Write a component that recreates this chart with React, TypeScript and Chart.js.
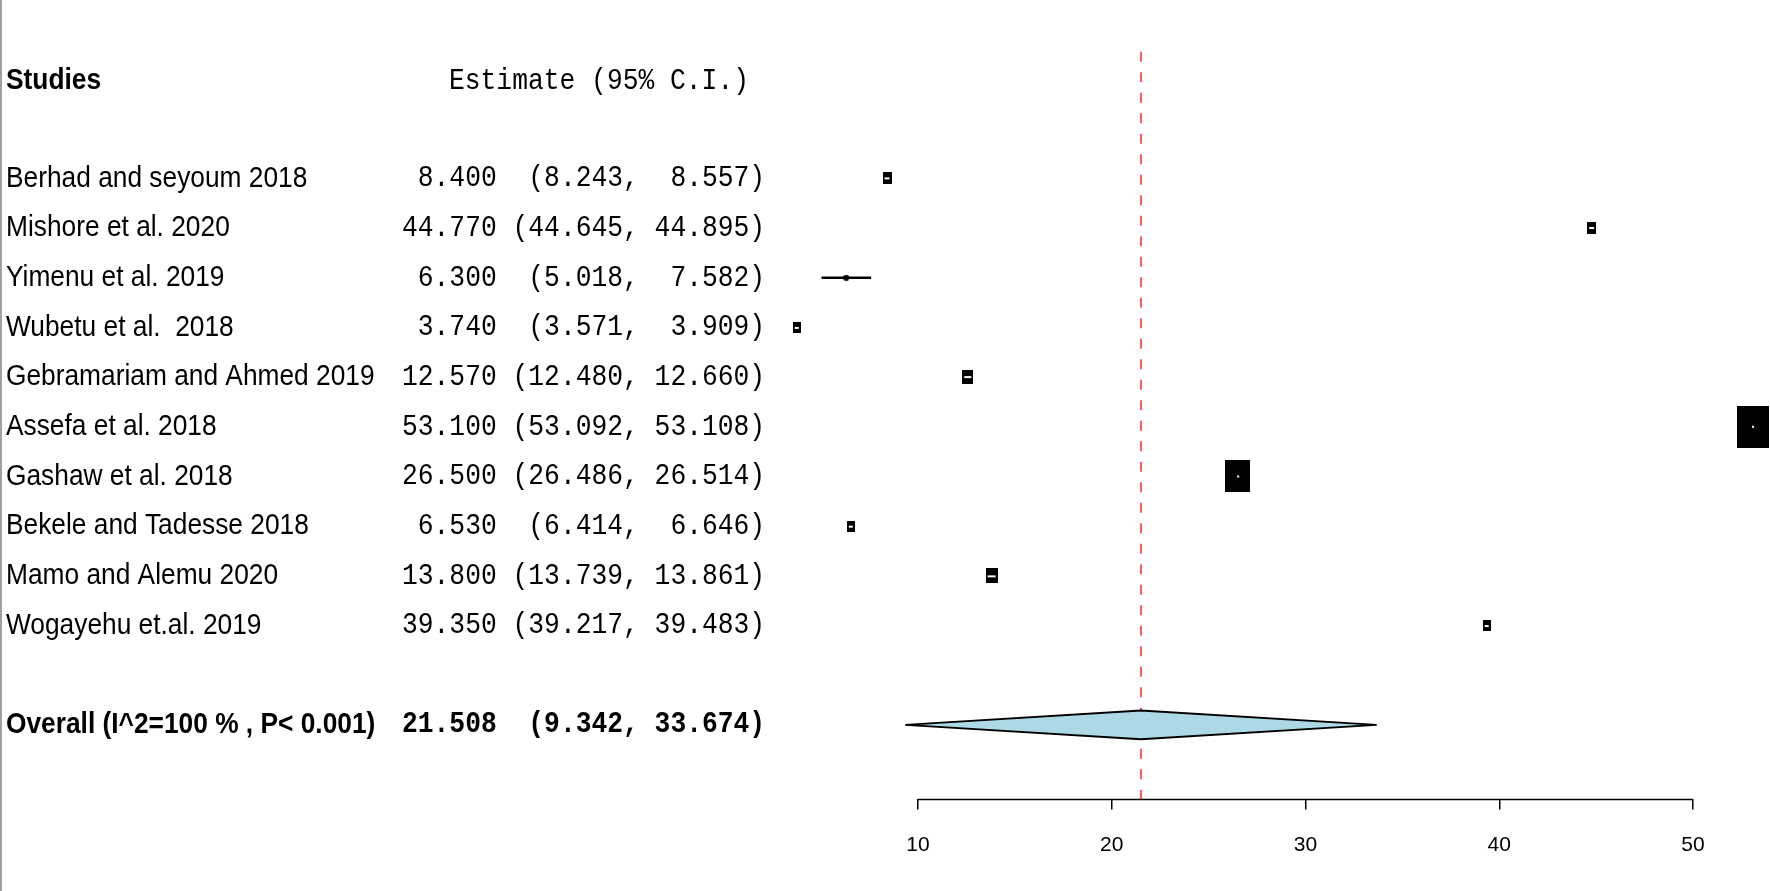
import React, { useEffect, useRef } from "react";
import { Chart, registerables } from "chart.js";

Chart.register(...registerables);

const studies = [
  "Berhad and seyoum 2018",
  "Mishore et al. 2020",
  "Yimenu et al. 2019",
  "Wubetu et al.  2018",
  "Gebramariam and Ahmed 2019",
  "Assefa et al. 2018",
  "Gashaw et al. 2018",
  "Bekele and Tadesse 2018",
  "Mamo and Alemu 2020",
  "Wogayehu et.al. 2019",
];
const estimates = [8.4, 44.77, 6.3, 3.74, 12.57, 53.1, 26.5, 6.53, 13.8, 39.35];
const lowerCI = [8.243, 44.645, 5.018, 3.571, 12.48, 53.092, 26.486, 6.414, 13.739, 39.217];
const upperCI = [8.557, 44.895, 7.582, 3.909, 12.66, 53.108, 26.514, 6.646, 13.861, 39.483];
// relative box sizes (study weights as drawn)
const weights = [12, 12, 5, 11, 14, 42, 32, 11, 15, 11];

const overallLabel = "Overall (I^2=100 % , P< 0.001)";
const overallEstimate = 21.508;
const overallLower = 9.342;
const overallUpper = 33.674;

const xTicks = [10, 20, 30, 40, 50];

const SX = 0.877;
const SANS = "'Liberation Sans', Arial, sans-serif";
const MONO = "'Liberation Mono', 'Courier New', monospace";

function fmtRow(e: number, lo: number, hi: number) {
  return (
    e.toFixed(3).padStart(6) +
    " " +
    ("(" + lo.toFixed(3)).padStart(7) +
    "," +
    hi.toFixed(3).padStart(7) +
    ")"
  );
}

function makeBox(h: number): HTMLCanvasElement {
  const c = document.createElement("canvas");
  if (h <= 6) {
    c.width = 6;
    c.height = 6;
    const g = c.getContext("2d")!;
    g.fillStyle = "#000";
    g.beginPath();
    g.arc(3, 3, 3, 0, Math.PI * 2);
    g.fill();
    return c;
  }
  const w = Math.round(h / 1.3);
  c.width = w;
  c.height = h;
  const g = c.getContext("2d")!;
  g.fillStyle = "#000";
  g.fillRect(0, 0, w, h);
  g.fillStyle = "#fff";
  if (h < 20) {
    g.fillRect(2, Math.round(h / 2) - 1, w - 4, 2);
  } else {
    g.fillRect(Math.round(w / 2) - 1, Math.round(h / 2) - 1, 2, 2);
  }
  return c;
}

export default function App() {
  const ref = useRef<HTMLCanvasElement>(null);

  useEffect(() => {
    document.body.style.margin = "0";
    document.body.style.overflow = "hidden";
    const canvas = ref.current!;
    const rowOf = (i: number) => 2 + i;
    const overallRow = 13;

    const ciSets = studies.map((_, i) => ({
      data: [
        { x: lowerCI[i], y: rowOf(i) },
        { x: upperCI[i], y: rowOf(i) },
      ],
      showLine: true,
      borderColor: "#000",
      borderWidth: 2.5,
      pointRadius: 0,
      order: 3,
    }));

    const boxSet = {
      data: estimates.map((e, i) => ({ x: e, y: rowOf(i) })),
      showLine: false,
      pointStyle: weights.map((w) => makeBox(w)),
      pointRadius: 5,
      order: 1,
    };

    const hh = 0.29;
    const diamond = {
      data: [
        { x: overallLower, y: overallRow },
        { x: overallEstimate, y: overallRow - hh },
        { x: overallUpper, y: overallRow },
        { x: overallEstimate, y: overallRow + hh },
        { x: overallLower, y: overallRow },
      ],
      showLine: true,
      fill: "shape",
      backgroundColor: "#add8e6",
      borderColor: "#000",
      borderWidth: 2,
      pointRadius: 0,
      tension: 0,
      order: 0,
    };

    const refLine = {
      data: [
        { x: overallEstimate, y: -0.55 },
        { x: overallEstimate, y: 14.5 },
      ],
      showLine: true,
      borderColor: "#ff5c5c",
      borderWidth: 2,
      borderDash: [10, 10.5],
      pointRadius: 0,
      order: 4,
    };

    const textPlugin = {
      id: "forestText",
      afterDraw(chart: any) {
        const ctx = chart.ctx;
        const y = chart.scales.y;
        const draw = (t: string, x: number, k: number, font: string) => {
          ctx.save();
          ctx.font = font;
          ctx.fillStyle = "#000";
          ctx.textBaseline = "middle";
          ctx.textAlign = "left";
          ctx.translate(x, y.getPixelForValue(k));
          ctx.scale(SX, 1);
          ctx.fillText(t, 0, 0);
          ctx.restore();
        };
        // left border
        ctx.save();
        ctx.fillStyle = "#a0a0a0";
        ctx.fillRect(0, 0, 2, chart.height);
        ctx.restore();

        draw("Studies", 6, 0.04, `bold 30px ${SANS}`);
        draw("Estimate (95% C.I.)", 449, 0.04, `30px ${MONO}`);
        studies.forEach((s, i) => {
          draw(s, 6, rowOf(i), `30px ${SANS}`);
          draw(fmtRow(estimates[i], lowerCI[i], upperCI[i]), 402, rowOf(i), `30px ${MONO}`);
        });
        draw(overallLabel, 6, overallRow, `bold 30px ${SANS}`);
        draw(fmtRow(overallEstimate, overallLower, overallUpper), 402, overallRow, `bold 30px ${MONO}`);

        // x axis line between first and last tick
        const x = chart.scales.x;
        const yb = chart.chartArea.bottom;
        ctx.save();
        ctx.strokeStyle = "#000";
        ctx.lineWidth = 1.5;
        ctx.beginPath();
        ctx.moveTo(x.getPixelForValue(xTicks[0]), yb);
        ctx.lineTo(x.getPixelForValue(xTicks[xTicks.length - 1]), yb);
        ctx.stroke();
        ctx.restore();
      },
    };

    const xmin = 10 - (918 - 760) / 19.375;
    const xmax = 10 + (1770 - 918) / 19.375;

    const chart = new Chart(canvas, {
      type: "line",
      data: { datasets: [refLine, ...ciSets, boxSet, diamond] as any },
      options: {
        animation: false,
        responsive: false,
        events: [],
        layout: { autoPadding: false, padding: { left: 760, right: 0, top: 29.3, bottom: 10.4 } },
        plugins: { legend: { display: false }, tooltip: { enabled: false } },
        scales: {
          x: {
            type: "linear",
            min: xmin,
            max: xmax,
            afterBuildTicks: (s: any) => {
              s.ticks = xTicks.map((v) => ({ value: v }));
            },
            border: { display: false },
            grid: {
              drawOnChartArea: false,
              drawTicks: true,
              tickLength: 10,
              color: "#000",
              lineWidth: 1.5,
            },
            ticks: {
              padding: 23,
              color: "#000",
              font: { family: SANS, size: 21 },
              maxRotation: 0,
              autoSkip: false,
              callback: (v: any) => String(v),
            },
          },
          y: {
            type: "linear",
            min: -1,
            max: 14.5,
            reverse: true,
            display: false,
          },
        },
      } as any,
      plugins: [textPlugin],
    });
    return () => chart.destroy();
  }, []);

  return (
    <canvas
      ref={ref}
      width={1770}
      height={891}
      style={{ display: "block", width: 1770, height: 891 }}
    />
  );
}
